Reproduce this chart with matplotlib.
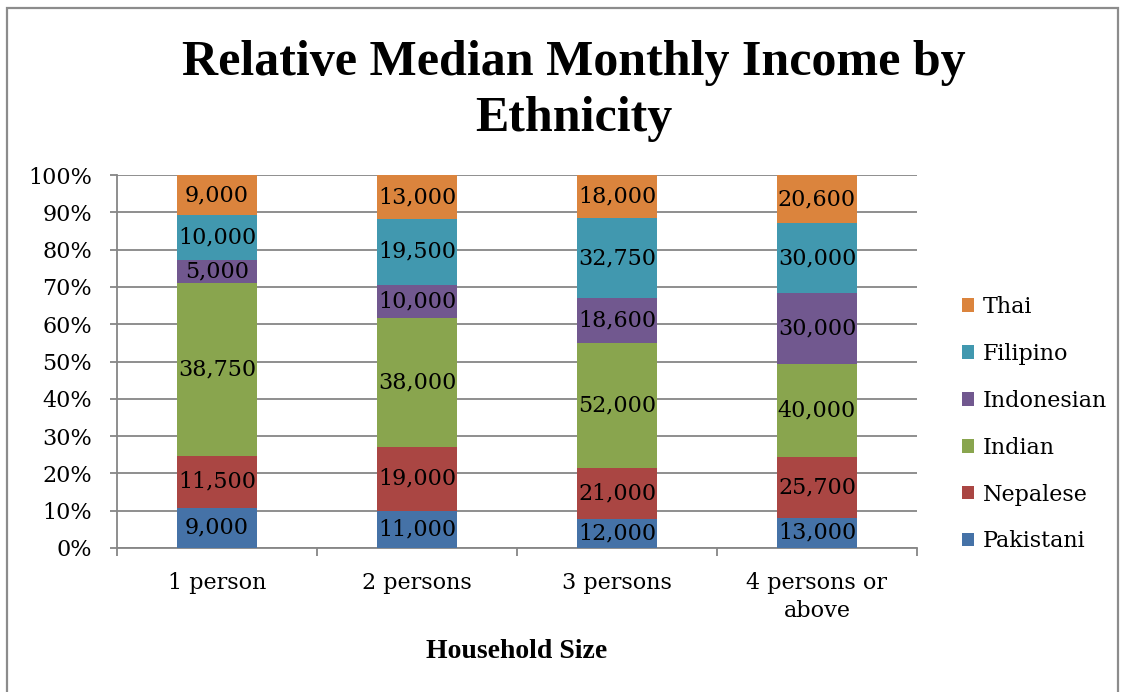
import matplotlib
matplotlib.use("Agg")
import matplotlib.pyplot as plt
from matplotlib.patches import Patch, Rectangle
import numpy as np

categories = ["1 person", "2 persons", "3 persons", "4 persons or\nabove"]
ethnicities = ["Pakistani", "Nepalese", "Indian", "Indonesian", "Filipino", "Thai"]
pakistani = [9000, 11000, 12000, 13000]
nepalese = [11500, 19000, 21000, 25700]
indian = [38750, 38000, 52000, 40000]
indonesian = [5000, 10000, 18600, 30000]
filipino = [10000, 19500, 32750, 30000]
thai = [9000, 13000, 18000, 20600]
colors = ["#4572A7", "#AA4643", "#89A54E", "#71588F", "#4198AF", "#DB843D"]

series = [pakistani, nepalese, indian, indonesian, filipino, thai]
values = np.array(series, dtype=float)
totals = values.sum(axis=0)
shares = values / totals * 100

W, H = 1123, 692
fig = plt.figure(figsize=(W / 100, H / 100), dpi=100)
body = "DejaVu Serif"
head = "Liberation Serif"
grid_c = "#868686"

ax = fig.add_axes([117 / W, 144 / H, 800 / W, 373 / H])
x = np.arange(len(categories))
bottom = np.zeros(len(categories))
for name, s, v, c in zip(ethnicities, shares, values, colors):
    ax.bar(x, s, width=0.4, bottom=bottom, color=c, zorder=3, label=name)
    for xi, b, h, val in zip(x, bottom, s, v):
        ax.text(xi, b + h / 2, f"{int(val):,}", ha="center", va="center",
                fontsize=16, family=body, color="black", zorder=4)
    bottom += s

ax.set_xlim(-0.5, 3.5)
ax.set_ylim(0, 100)
ax.set_yticks(np.arange(0, 101, 10))
ax.set_yticklabels([f"{v}%" for v in range(0, 101, 10)], family=body, fontsize=16)
ax.yaxis.grid(True, color=grid_c, lw=1.3, zorder=0)
ax.set_xticks(x)
ax.set_xticklabels(categories, family=body, fontsize=16, linespacing=1.4)
ax.set_xticks(np.arange(-0.5, 4.0, 1.0), minor=True)
ax.tick_params(axis="x", which="major", length=0, pad=17)
ax.tick_params(axis="x", which="minor", length=6, color=grid_c, width=1.3)
ax.tick_params(axis="y", length=5, color=grid_c, width=1.3, pad=13)
for side in ("top", "right"):
    ax.spines[side].set_visible(False)
for side in ("left", "bottom"):
    ax.spines[side].set_color(grid_c)
    ax.spines[side].set_linewidth(1.3)

ax.set_xlabel("Household Size", family=head, fontsize=20, fontweight="bold", labelpad=12)

fig.text(574 / W, 1 - 91 / H, "Relative Median Monthly Income by\nEthnicity",
         ha="center", va="center", family=head, fontsize=36, fontweight="bold",
         linespacing=1.3)

handles = [Patch(facecolor=c, edgecolor="none") for c in colors][::-1]
fig.legend(handles, ethnicities[::-1], loc="upper left",
           bbox_to_anchor=(962 / W, 1 - 296 / H), frameon=False,
           prop={"family": body, "size": 16}, handlelength=0.55, handleheight=0.55,
           handletextpad=0.4, labelspacing=1.12, borderaxespad=0, borderpad=0)

fig.patches.append(Rectangle((7 / W, -0.05), (1118 - 7) / W, 1.05 - 8 / H,
                             transform=fig.transFigure, fill=False,
                             edgecolor="#8c8c8c", lw=1.6))

fig.savefig("out.png", dpi=100)
